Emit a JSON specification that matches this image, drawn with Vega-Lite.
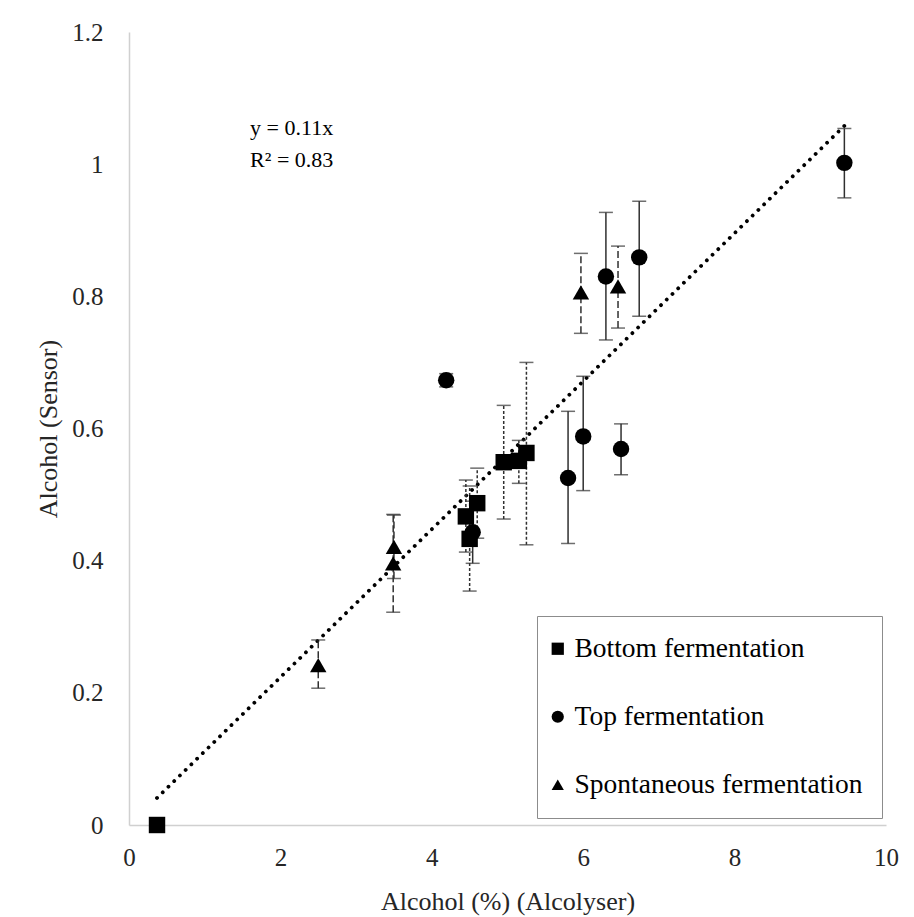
{
  "$schema": "https://vega.github.io/schema/vega-lite/v6.json",
  "width": 757,
  "height": 793,
  "autosize": "none",
  "padding": {"left": 129, "top": 32, "right": 28, "bottom": 92},
  "background": "white",
  "config": {
    "view": {"stroke": null},
    "font": "Liberation Serif",
    "axis": {
      "labelFont": "Liberation Serif",
      "titleFont": "Liberation Serif",
      "labelFontSize": 25,
      "titleFontSize": 26,
      "titleFontWeight": "normal",
      "labelColor": "#262626",
      "titleColor": "#262626",
      "domainColor": "#d0d0d0",
      "domainWidth": 1.5,
      "ticks": false,
      "grid": false,
      "labelFlush": false
    },
    "legend": {
      "orient": "none",
      "legendX": 408,
      "legendY": 584,
      "labelFont": "Liberation Serif",
      "labelFontSize": 27.5,
      "labelColor": "black",
      "labelLimit": 500,
      "symbolSize": 150,
      "symbolOffset": -12,
      "padding": 19,
      "rowPadding": 39,
      "labelOffset": 3,
      "strokeColor": "#8c8c8c",
      "symbolFillColor": "black",
      "symbolStrokeWidth": 0
    }
  },
  "datasets": {
    "pts": [
      {"type": "Bottom fermentation", "x": 0.37, "y": 0.0, "lo": null, "hi": null},
      {"type": "Bottom fermentation", "x": 4.45, "y": 0.467, "lo": 0.413, "hi": 0.522},
      {"type": "Bottom fermentation", "x": 4.5, "y": 0.433, "lo": 0.354, "hi": 0.513},
      {"type": "Bottom fermentation", "x": 4.6, "y": 0.487, "lo": 0.434, "hi": 0.54},
      {"type": "Bottom fermentation", "x": 4.95, "y": 0.549, "lo": 0.463, "hi": 0.635},
      {"type": "Bottom fermentation", "x": 5.15, "y": 0.551, "lo": 0.517, "hi": 0.582},
      {"type": "Bottom fermentation", "x": 5.25, "y": 0.563, "lo": 0.424, "hi": 0.7},
      {"type": "Top fermentation", "x": 4.19, "y": 0.673, "lo": 0.663, "hi": 0.683},
      {"type": "Top fermentation", "x": 4.54, "y": 0.443, "lo": 0.396, "hi": 0.49},
      {"type": "Top fermentation", "x": 5.8, "y": 0.525, "lo": 0.426, "hi": 0.626},
      {"type": "Top fermentation", "x": 6.0, "y": 0.588, "lo": 0.506, "hi": 0.679},
      {"type": "Top fermentation", "x": 6.5, "y": 0.569, "lo": 0.53, "hi": 0.607},
      {"type": "Top fermentation", "x": 6.3, "y": 0.83, "lo": 0.734, "hi": 0.927},
      {"type": "Top fermentation", "x": 6.74, "y": 0.859, "lo": 0.77, "hi": 0.944},
      {"type": "Top fermentation", "x": 9.45, "y": 1.002, "lo": 0.949, "hi": 1.054},
      {"type": "Spontaneous fermentation", "x": 2.5, "y": 0.242, "lo": 0.207, "hi": 0.28},
      {"type": "Spontaneous fermentation", "x": 3.5, "y": 0.421, "lo": 0.373, "hi": 0.469},
      {"type": "Spontaneous fermentation", "x": 3.49, "y": 0.396, "lo": 0.322, "hi": 0.47},
      {"type": "Spontaneous fermentation", "x": 5.97, "y": 0.806, "lo": 0.744, "hi": 0.865},
      {"type": "Spontaneous fermentation", "x": 6.46, "y": 0.815, "lo": 0.752, "hi": 0.876}
    ],
    "trend": [
      {"x": 0.37, "y": 0.041},
      {"x": 9.45, "y": 1.058}
    ],
    "eq": [
      {"x": 1.6, "y": 1.054, "label": "y = 0.11x"},
      {"x": 1.6, "y": 1.006, "label": "R² = 0.83"}
    ]
  },
  "layer": [
    {
      "data": {"name": "trend"},
      "mark": {"type": "line", "stroke": "black", "strokeWidth": 3.8, "strokeDash": [0.01, 8], "strokeCap": "round"},
      "encoding": {
        "x": {"field": "x", "type": "quantitative", "title": "Alcohol (%) (Alcolyser)",
              "scale": {"domain": [0, 10], "nice": false, "zero": true},
              "axis": {"values": [0, 2, 4, 6, 8, 10], "format": "~g", "labelPadding": 20, "titlePadding": 18}},
        "y": {"field": "y", "type": "quantitative", "title": "Alcohol (Sensor)",
              "scale": {"domain": [0, 1.2], "nice": false},
              "axis": {"values": [0, 0.2, 0.4, 0.6, 0.8, 1, 1.2], "format": "~g", "labelPadding": 26, "titlePadding": 10}}
      }
    },
    {
      "data": {"name": "pts"},
      "transform": [{"filter": "datum.type == 'Bottom fermentation' && datum.lo != null"}],
      "mark": {"type": "rule", "strokeWidth": 1.5, "color": "#303030", "strokeDash": [3, 2]},
      "encoding": {
        "x": {"field": "x", "type": "quantitative", "title": "Alcohol (%) (Alcolyser)"},
        "y": {"field": "lo", "type": "quantitative", "title": "Alcohol (Sensor)"},
        "y2": {"field": "hi"}
      }
    },
    {
      "data": {"name": "pts"},
      "transform": [{"filter": "datum.type == 'Top fermentation'"}],
      "mark": {"type": "rule", "strokeWidth": 1.5, "color": "#303030"},
      "encoding": {
        "x": {"field": "x", "type": "quantitative", "title": "Alcohol (%) (Alcolyser)"},
        "y": {"field": "lo", "type": "quantitative", "title": "Alcohol (Sensor)"},
        "y2": {"field": "hi"}
      }
    },
    {
      "data": {"name": "pts"},
      "transform": [{"filter": "datum.type == 'Spontaneous fermentation'"}],
      "mark": {"type": "rule", "strokeWidth": 1.5, "color": "#303030", "strokeDash": [7, 3]},
      "encoding": {
        "x": {"field": "x", "type": "quantitative", "title": "Alcohol (%) (Alcolyser)"},
        "y": {"field": "lo", "type": "quantitative", "title": "Alcohol (Sensor)"},
        "y2": {"field": "hi"}
      }
    },
    {
      "data": {"name": "pts"},
      "transform": [{"filter": "datum.lo != null"}],
      "mark": {"type": "tick", "orient": "horizontal", "size": 14, "thickness": 1.5, "color": "#303030"},
      "encoding": {
        "x": {"field": "x", "type": "quantitative", "title": "Alcohol (%) (Alcolyser)"},
        "y": {"field": "lo", "type": "quantitative", "title": "Alcohol (Sensor)"}
      }
    },
    {
      "data": {"name": "pts"},
      "transform": [{"filter": "datum.lo != null"}],
      "mark": {"type": "tick", "orient": "horizontal", "size": 14, "thickness": 1.5, "color": "#303030"},
      "encoding": {
        "x": {"field": "x", "type": "quantitative", "title": "Alcohol (%) (Alcolyser)"},
        "y": {"field": "hi", "type": "quantitative", "title": "Alcohol (Sensor)"}
      }
    },
    {
      "data": {"name": "pts"},
      "mark": {"type": "point", "filled": true, "color": "black", "opacity": 1, "size": 270},
      "encoding": {
        "x": {"field": "x", "type": "quantitative", "title": "Alcohol (%) (Alcolyser)"},
        "y": {"field": "y", "type": "quantitative", "title": "Alcohol (Sensor)"},
        "shape": {"field": "type", "type": "nominal", "title": null,
                  "scale": {"domain": ["Bottom fermentation", "Top fermentation", "Spontaneous fermentation"],
                            "range": ["square", "circle", "triangle-up"]}}
      }
    },
    {
      "data": {"name": "eq"},
      "mark": {"type": "text", "align": "left", "baseline": "middle", "fontSize": 22, "font": "Liberation Serif", "color": "black"},
      "encoding": {
        "x": {"field": "x", "type": "quantitative", "title": "Alcohol (%) (Alcolyser)"},
        "y": {"field": "y", "type": "quantitative", "title": "Alcohol (Sensor)"},
        "text": {"field": "label"}
      }
    }
  ]
}
